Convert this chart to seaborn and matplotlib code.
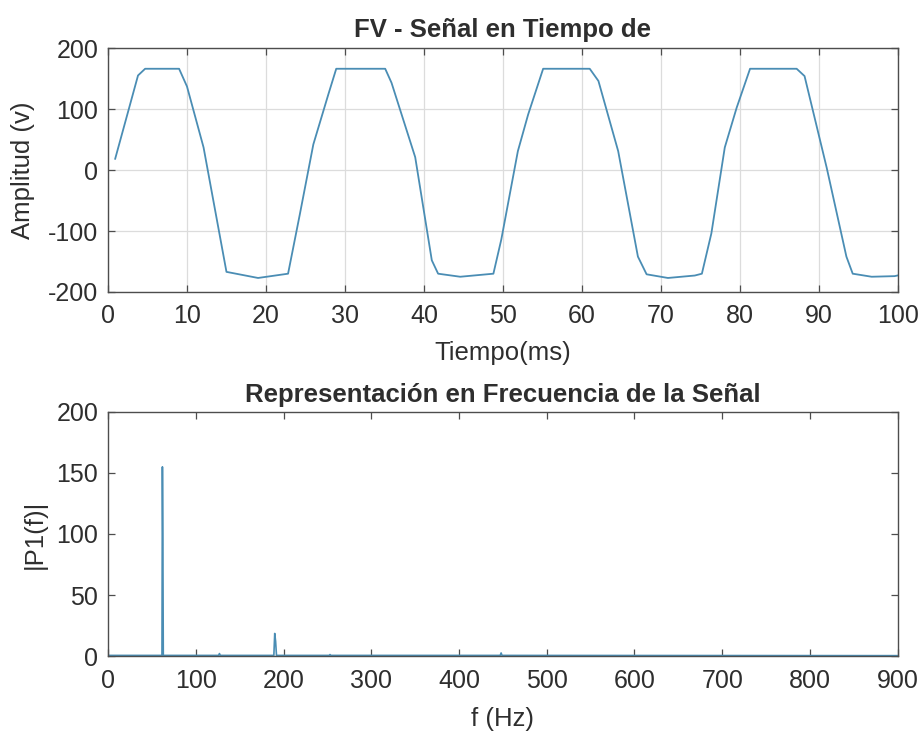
import matplotlib
matplotlib.use("Agg")
import matplotlib.pyplot as plt
import seaborn as sns
import pandas as pd

# ---- data ----
time_ms = [0.9, 3.8, 4.7, 9.0, 10.0, 12.1, 15.0, 19.0, 22.8, 24.3, 26.0, 27.9, 28.9,
           35.1, 35.9, 38.9, 41.0, 41.8, 44.6, 48.8, 49.8, 51.9, 53.2, 55.1,
           61.0, 62.1, 64.6, 67.1, 68.2, 70.9, 74.3, 75.2, 76.4, 78.1, 79.6, 81.3,
           87.2, 88.2, 91.0, 93.5, 94.3, 96.7, 99.6, 100.3]
amplitude_v = [18, 155, 166, 166, 137, 37, -167, -177, -170, -72, 42, 124, 166,
               166, 143, 21, -148, -170, -175, -170, -114, 31, 91, 166,
               166, 146, 31, -142, -171, -177, -173, -170, -104, 37, 102, 166,
               166, 154, 4, -142, -170, -175, -174, -172]

freq_hz = [0, 61.5, 62, 62.5, 63, 126, 127, 128, 189, 190, 191, 192,
           252, 253, 254, 447, 448, 449, 900]
p1_amp = [0.5, 0.5, 155, 97, 0.5, 0.5, 2, 0.5, 0.5, 18.5, 12, 0.5,
          0.5, 1.2, 0.5, 0.5, 2.5, 0.5, 0.3]

title_top = "FV - Señal en Tiempo de"
title_bottom = "Representación en Frecuencia de la Señal"
top_xticks = list(range(0, 101, 10))
top_yticks = [-200, -100, 0, 100, 200]
bot_xticks = list(range(0, 901, 100))
bot_yticks = [0, 50, 100, 150, 200]

# ---- styling ----
sns.set_theme(style="white")
plt.rcParams['font.family'] = ['Liberation Sans', 'DejaVu Sans']
plt.rcParams['axes.unicode_minus'] = False
text_col = "#2e2e2e"
line_col = "#4a8db4"
fs_tick = 18
fs_lab = 18.5
fs_title = 18.5

fig = plt.figure(figsize=(9.2, 7.32), dpi=100)
ax1 = fig.add_axes([0.1174, 0.6011, 0.8584, 0.3333])
ax2 = fig.add_axes([0.1174, 0.1038, 0.8584, 0.3334])

df_t = pd.DataFrame({"t": time_ms, "v": amplitude_v})
df_f = pd.DataFrame({"f": freq_hz, "p": p1_amp})

sns.lineplot(data=df_t, x="t", y="v", ax=ax1, color=line_col, linewidth=1.3,
             estimator=None, sort=False)
sns.lineplot(data=df_f, x="f", y="p", ax=ax2, color=line_col, linewidth=1.2,
             estimator=None, sort=False)

for ax in (ax1, ax2):
    for s in ax.spines.values():
        s.set_visible(True)
        s.set_color("#4d4d4d")
        s.set_linewidth(1.0)
    ax.tick_params(direction="in", length=5, width=0.9, color="#4d4d4d",
                   top=True, right=True, bottom=True, left=True,
                   labelsize=fs_tick, labelcolor=text_col)
    ax.tick_params(axis="x", pad=9)
    ax.tick_params(axis="y", pad=7)

ax1.set_xlim(0, 100)
ax1.set_ylim(-200, 200)
ax1.set_xticks(top_xticks)
ax1.set_yticks(top_yticks)
ax1.grid(True, color="#dcdcdc", linewidth=0.9)
ax1.set_axisbelow(True)
ax1.set_title(title_top, fontsize=fs_title, fontweight="bold", color=text_col, pad=8)
ax1.set_xlabel("Tiempo(ms)", fontsize=fs_lab, color=text_col)
ax1.set_ylabel("Amplitud (v)", fontsize=fs_lab, color=text_col)
ax1.xaxis.set_label_coords(0.5, -0.2)
ax1.yaxis.set_label_coords(-0.093, 0.5)

ax2.set_xlim(0, 900)
ax2.set_ylim(0, 200)
ax2.set_xticks(bot_xticks)
ax2.set_yticks(bot_yticks)
ax2.grid(False)
ax2.set_title(title_bottom, fontsize=fs_title, fontweight="bold", color=text_col, pad=7)
ax2.set_xlabel("f (Hz)", fontsize=fs_lab, color=text_col)
ax2.set_ylabel("|P1(f)|", fontsize=fs_lab, color=text_col)
ax2.xaxis.set_label_coords(0.5, -0.21)
ax2.yaxis.set_label_coords(-0.077, 0.5)

fig.savefig("out.png", dpi=100, facecolor="white")
